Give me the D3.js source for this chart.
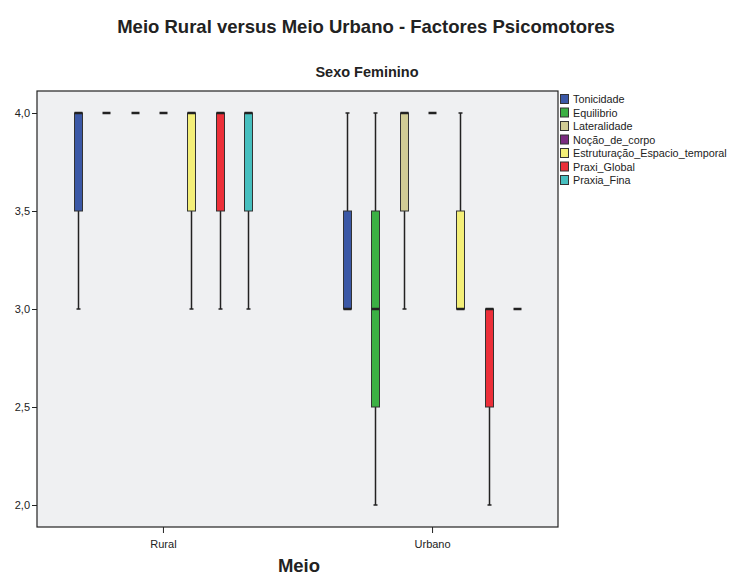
<!DOCTYPE html>
<html><head><meta charset="utf-8">
<script src="https://cdn.jsdelivr.net/npm/d3@7"></script>
<style>body{margin:0;background:#fff;}svg{display:block;font-family:Arial,"Liberation Sans",sans-serif;}</style>
</head><body>
<script>
const categories = ["Rural", "Urbano"];
const series = ["Tonicidade","Equilibrio","Lateralidade","Noção_de_corpo","Estruturação_Espacio_temporal","Praxi_Global","Praxia_Fina"];
const colors = ["#3b58a6","#3cb044","#d1cc95","#7a2b80","#f4ef78","#ec2f39","#47bfbf"];
// [min, q1, median, q3, max] per series, per category
const ruralStats = [
  [3,3.5,4,4,4],[4,4,4,4,4],[4,4,4,4,4],[4,4,4,4,4],
  [3,3.5,4,4,4],[3,3.5,4,4,4],[3,3.5,4,4,4]];
const urbanoStats = [
  [3,3,3,3.5,4],[2,2.5,3,3.5,4],[3,3.5,4,4,4],[4,4,4,4,4],
  [3,3,3,3.5,4],[2,2.5,3,3,3],[3,3,3,3,3]];
const yTicks = [2.0,2.5,3.0,3.5,4.0];

const W=731,H=577;
const L=37,R=558,T=91,B=527;
const svg=d3.select("body").append("svg").attr("width",W).attr("height",H);

svg.append("rect").attr("x",L).attr("y",T).attr("width",R-L).attr("height",B-T).attr("fill","#eff0f2");

const y=d3.scaleLinear().domain([2-22/196,4+22/196]).range([B,T]);
const x=d3.scalePoint().domain(categories).range([L,R]).padding(0.468);
const sub=d3.scaleBand().domain(series).range([-99.5,99.5]);
const bw=8;

const data=[];
categories.forEach((c,ci)=>{
  const st = ci===0?ruralStats:urbanoStats;
  series.forEach((s,si)=>data.push({c,s,si,v:st[si]}));
});

const g=svg.append("g");
data.forEach(d=>{
  const cx=Math.round(x(d.c)+sub(d.s)+sub.bandwidth()/2)+0.5;
  const [mn,q1,md,q3,mx]=d.v;
  const gg=g.append("g");
  if(mn===mx){
    gg.append("line").attr("x1",cx-bw/2).attr("x2",cx+bw/2).attr("y1",y(md)).attr("y2",y(md)).attr("stroke","#222").attr("stroke-width",2.5);
    return;
  }
  if(mn<q1){
    gg.append("line").attr("x1",cx).attr("x2",cx).attr("y1",y(q1)).attr("y2",y(mn)).attr("stroke","#222").attr("stroke-width",1.5);
    gg.append("line").attr("x1",cx-2).attr("x2",cx+2).attr("y1",y(mn)).attr("y2",y(mn)).attr("stroke","#222").attr("stroke-width",1.5);
  }
  if(mx>q3){
    gg.append("line").attr("x1",cx).attr("x2",cx).attr("y1",y(q3)).attr("y2",y(mx)).attr("stroke","#222").attr("stroke-width",1.5);
    gg.append("line").attr("x1",cx-2).attr("x2",cx+2).attr("y1",y(mx)).attr("y2",y(mx)).attr("stroke","#222").attr("stroke-width",1.5);
  }
  gg.append("rect").attr("x",cx-bw/2).attr("y",y(q3)).attr("width",bw).attr("height",y(q1)-y(q3))
    .attr("fill",colors[d.si]).attr("stroke","#333").attr("stroke-width",1);
  gg.append("line").attr("x1",cx-bw/2).attr("x2",cx+bw/2).attr("y1",y(md)).attr("y2",y(md)).attr("stroke","#222").attr("stroke-width",2.5);
});

svg.append("rect").attr("x",L).attr("y",T).attr("width",R-L).attr("height",B-T).attr("fill","none").attr("stroke","#222").attr("stroke-width",1.2);

const ya=svg.append("g").attr("transform",`translate(${L},0)`).call(d3.axisLeft(y).tickValues(yTicks).tickSize(5).tickSizeOuter(0).tickFormat(d=>d3.format(".1f")(d).replace(".",",")));
ya.select(".domain").remove();
ya.selectAll("text").attr("font-size",11).attr("fill","#222").attr("dx",1);
ya.selectAll("line").attr("stroke","#222");
const xa=svg.append("g").attr("transform",`translate(0,${B})`).call(d3.axisBottom(x).tickSize(6).tickSizeOuter(0));
xa.select(".domain").remove();
xa.selectAll("text").attr("font-size",11).attr("fill","#222").attr("dy","1.05em");
xa.selectAll("line").attr("stroke","#222");

svg.append("text").attr("x",366).attr("y",33).attr("text-anchor","middle").attr("font-size",18.5).attr("font-weight","bold").attr("fill","#222").text("Meio Rural versus Meio Urbano - Factores Psicomotores");
svg.append("text").attr("x",367).attr("y",77).attr("text-anchor","middle").attr("font-size",14.5).attr("font-weight","bold").attr("fill","#222").text("Sexo Feminino");
svg.append("text").attr("x",299).attr("y",572).attr("text-anchor","middle").attr("font-size",18.5).attr("font-weight","bold").attr("fill","#222").text("Meio");

const lg=svg.append("g").attr("transform","translate(560,94)");
series.forEach((s,i)=>{
  lg.append("rect").attr("x",0.5).attr("y",i*13.5+0.5).attr("width",8).attr("height",9).attr("fill",colors[i]).attr("stroke","#333").attr("stroke-width",1);
  lg.append("text").attr("x",13).attr("y",i*13.5+9).attr("font-size",10.8).attr("fill","#222").text(s);
});
</script>
</body></html>
